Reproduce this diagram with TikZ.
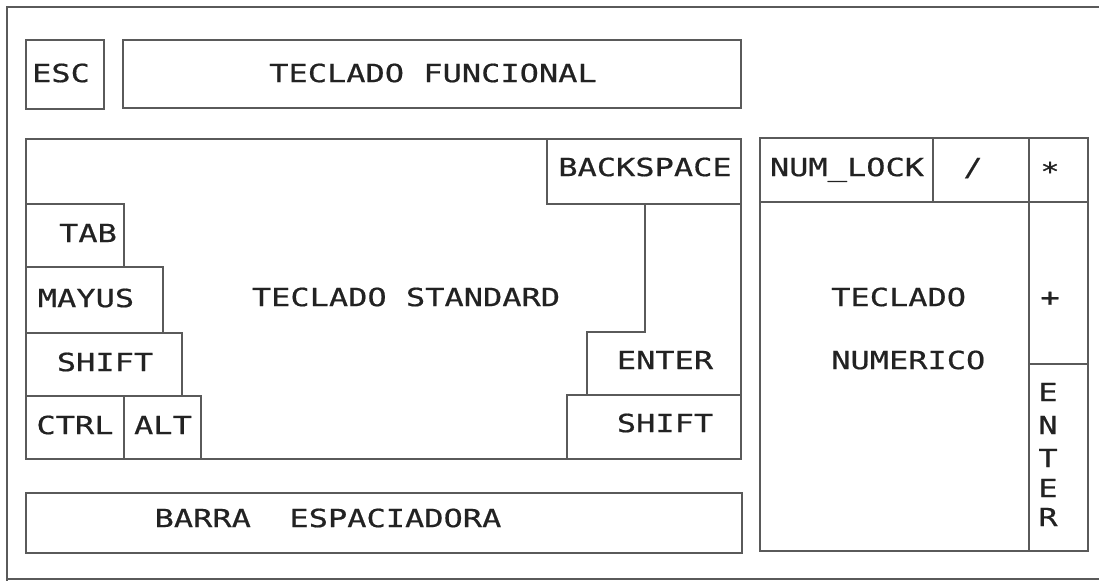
\documentclass[tikz,border=0pt]{standalone}
\usepackage{fontspec}
\newfontfamily\keyfont[FakeStretch=1.28,FakeBold=0.6]{DejaVu Sans Mono}
\definecolor{linec}{HTML}{5A5A5A}
\definecolor{textc}{HTML}{222222}
\begin{document}
\begin{tikzpicture}[x=1pt,y=-1pt,
  keyline/.style={draw=linec,line width=1.3pt},
  frameline/.style={draw=linec,line width=1.3pt},
  lbl/.style={inner sep=0pt,text=textc,font=\keyfont\fontsize{25}{31}\selectfont,text height=18.2pt,text depth=0pt},
  lblw/.style={lbl,anchor=west}]
\useasboundingbox (0,0) rectangle (1099,581);
% outer frame
\draw[frameline] (1099,7) -- (7,7) -- (7,581);
\draw[frameline] (7,579) -- (1099,579);
% top row
\draw[keyline] (26,40) rectangle (104,109);
\draw[keyline] (123,40) rectangle (741,108);
\node[lbl] (esc) at (61,73) {ESC};
\node[lbl] (func) at (433,73) {TECLADO FUNCIONAL};
% standard keyboard
\draw[keyline] (26,139) rectangle (741,459);
\draw[keyline] (547,139) -- (547,204) -- (741,204);
\draw[keyline] (645,204) -- (645,332) -- (587,332) -- (587,395);
\draw[keyline] (567,459) -- (567,395) -- (741,395);
\draw[keyline] (26,204) -- (124,204) -- (124,267);
\draw[keyline] (26,267) -- (163,267) -- (163,333);
\draw[keyline] (26,333) -- (182,333) -- (182,396);
\draw[keyline] (26,396) -- (201,396) -- (201,459);
\draw[keyline] (124,396) -- (124,459);
\node[lbl] (bksp) at (645,167) {BACKSPACE};
\node[lbl] (tab) at (88,233) {TAB};
\node[lbl] (mayus) at (86,298) {MAYUS};
\node[lbl] (shiftl) at (105,362) {SHIFT};
\node[lbl] (ctrl) at (75,425) {CTRL};
\node[lbl] (alt) at (163,425) {ALT};
\node[lbl] (std) at (406,297) {TECLADO STANDARD};
\node[lbl] (enter) at (665,360) {ENTER};
\node[lbl] (shiftr) at (665,423) {SHIFT};
% space bar
\draw[keyline] (26,493) rectangle (742,553);
\node[lbl] (space) at (328,518) {BARRA~~ESPACIADORA};
% numeric keypad
\draw[keyline] (760,138) rectangle (1088,551);
\draw[keyline] (760,202) -- (1088,202);
\draw[keyline] (933,138) -- (933,202);
\draw[keyline] (1029,138) -- (1029,551);
\draw[keyline] (1029,364) -- (1088,364);
\node[lbl] (numlock) at (847,167) {NUM\_LOCK};
\node[lbl] (slash) at (973,167) {/};
\node[lbl] (star) at (1050,167) {\raisebox{-0.17em}{*}};
\node[lblw] (tec) at (831,297) {TECLADO};
\node[lblw] (num) at (831,360) {NUMERICO};
\node[lbl] (plus) at (1050,297) {+};
\node[lbl] (e1) at (1048,392) {E};
\node[lbl] (e2) at (1048,425) {N};
\node[lbl] (e3) at (1048,458) {T};
\node[lbl] (e4) at (1048,488) {E};
\node[lbl] (e5) at (1048,517) {R};
\end{tikzpicture}
\end{document}
